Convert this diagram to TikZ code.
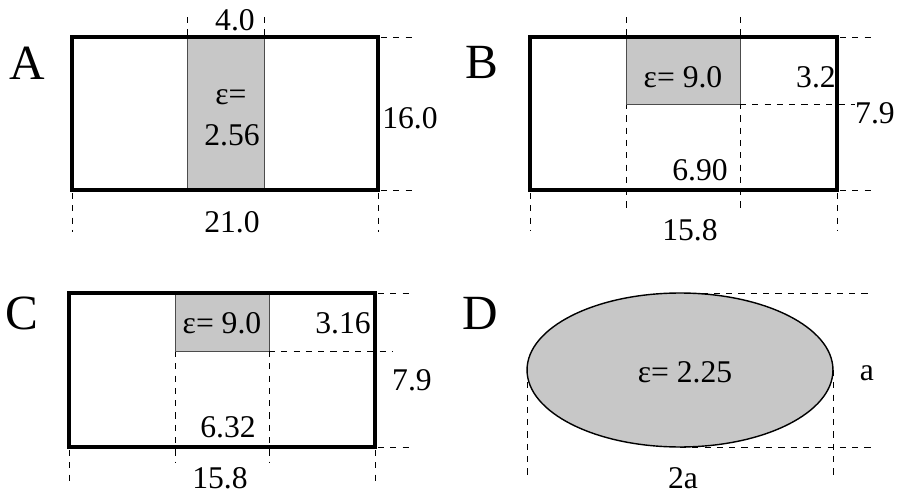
\documentclass[tikz,border=0pt]{standalone}
\usepackage{fontspec}
\setmainfont{Liberation Serif}
\begin{document}
\begin{tikzpicture}[x=0.02cm, y=-0.02cm,
  wall/.style={line width=2.1pt},
  dim/.style={dash pattern=on 3.5pt off 3.5pt, line width=0.5pt},
  core/.style={fill=black!22, draw=black!70, line width=0.4pt},
  num/.style={font=\fontsize{18}{21}\selectfont, inner sep=0pt},
  tag/.style={font=\fontsize{28}{32}\selectfont, inner sep=0pt}]
\useasboundingbox (0,0) rectangle (900,497);
% A
\draw[dim] (187,17) -- (187,37) (264,17) -- (264,37);
\filldraw[core] (187,37) rectangle (264,190);
\draw[wall] (72,37) rectangle (378,190);
\draw[dim] (381,37) -- (415,37) (381,190) -- (415,190);
\draw[dim] (72,193) -- (72,232) (378,193) -- (378,232);
\node[tag] (la) at (27,63) {A};
\node[num] (wa) at (235,20) {4.0};
\node[num] (ea) at (231,97) {ε=};
\node[num] (va) at (232,135) {2.56};
\node[num] (ha) at (410,118) {16.0};
\node[num] (ba) at (232,222) {21.0};
% B
\draw[dim] (626,17) -- (626,210) (740,17) -- (740,210);
\filldraw[core] (626,37) rectangle (740,104);
\draw[dim] (740,104) -- (855,104);
\draw[wall] (530,37) rectangle (837,190);
\draw[dim] (840,37) -- (873,37) (840,190) -- (875,190);
\draw[dim] (530,193) -- (530,230) (837,193) -- (837,230);
\node[tag] (lb) at (482,62) {B};
\node[num] (eb) at (683,77) {ε= 9.0};
\node[num] (tb) at (816,77) {3.2};
\node[num] (hb) at (875,113) {7.9};
\node[num] (gb) at (700,170) {6.90};
\node[num] (bb) at (690,230) {15.8};
% C
\draw[dim] (175,351) -- (175,462) (269,351) -- (269,462);
\filldraw[core] (175,293) rectangle (269,351);
\draw[dim] (269,351) -- (393,351);
\draw[wall] (69,293) rectangle (375,447);
\draw[dim] (378,293) -- (413,293) (378,447) -- (412,447);
\draw[dim] (69,450) -- (69,485) (375,450) -- (375,485);
\node[tag] (lc) at (22,313) {C};
\node[num] (ec) at (222,323) {ε= 9.0};
\node[num] (tc) at (343,323) {3.16};
\node[num] (hc) at (412,380) {7.9};
\node[num] (gc) at (228,427) {6.32};
\node[num] (bc) at (220,478) {15.8};
% D
\draw[dim] (677,293) -- (872,293) (680,447) -- (872,447);
\draw[dim] (527,370) -- (527,480) (833,370) -- (833,480);
\filldraw[fill=black!22, draw=black, line width=0.8pt] (680,370) ellipse [x radius=3.06cm, y radius=1.54cm];
\node[tag] (ld) at (480,313) {D};
\node[num] (ed) at (685,372) {ε= 2.25};
\node[num] (hd) at (867,373) {a};
\node[num] (bd) at (683,478) {2a};
\end{tikzpicture}
\end{document}
